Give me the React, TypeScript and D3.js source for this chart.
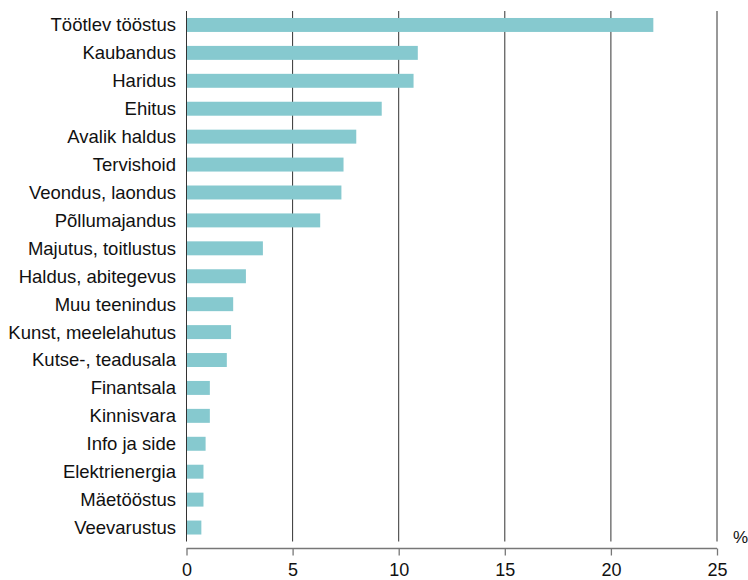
import React, { useRef, useEffect } from "react";
import * as d3 from "d3";

const categories = [
  "Töötlev tööstus",
  "Kaubandus",
  "Haridus",
  "Ehitus",
  "Avalik haldus",
  "Tervishoid",
  "Veondus, laondus",
  "Põllumajandus",
  "Majutus, toitlustus",
  "Haldus, abitegevus",
  "Muu teenindus",
  "Kunst, meelelahutus",
  "Kutse-, teadusala",
  "Finantsala",
  "Kinnisvara",
  "Info ja side",
  "Elektrienergia",
  "Mäetööstus",
  "Veevarustus",
];

const values = [22.0, 10.9, 10.7, 9.2, 8.0, 7.4, 7.3, 6.3, 3.6, 2.8, 2.2, 2.1, 1.9, 1.1, 1.1, 0.9, 0.8, 0.8, 0.7];

const xTicks = [0, 5, 10, 15, 20, 25];

export default function App() {
  const svgRef = useRef<SVGSVGElement>(null);
  const width = 748;
  const height = 580;

  useEffect(() => {
    if (!svgRef.current) return;
    const svg = d3.select(svgRef.current);
    svg.selectAll("*").remove();

    const left = 186.5;
    const right = 717;
    const top = 11;
    const bottom = 541.5;
    const axisY = 548.5;
    const font = "Liberation Sans, Arial, sans-serif";

    const x = d3.scaleLinear().domain([0, 25]).range([left, right]);
    const y = d3
      .scaleBand()
      .domain(categories)
      .range([top, bottom])
      .paddingInner(0.5)
      .paddingOuter(0.25);

    // grid lines
    svg
      .append("g")
      .selectAll("line")
      .data(xTicks)
      .join("line")
      .attr("x1", (d) => x(d))
      .attr("x2", (d) => x(d))
      .attr("y1", top)
      .attr("y2", bottom)
      .attr("stroke", "#333")
      .attr("stroke-width", 1);

    // bars
    svg
      .append("g")
      .selectAll("rect")
      .data(values)
      .join("rect")
      .attr("x", x(0) + 0.5)
      .attr("y", (_, i) => y(categories[i]) ?? 0)
      .attr("width", (d) => x(d) - x(0) - 0.5)
      .attr("height", y.bandwidth())
      .attr("fill", "#86C9CF");

    // category labels
    svg
      .append("g")
      .selectAll("text")
      .data(categories)
      .join("text")
      .attr("x", 176)
      .attr("y", (d) => (y(d) ?? 0) + y.bandwidth() / 2)
      .attr("dy", "0.35em")
      .attr("text-anchor", "end")
      .style("font-family", font)
      .style("font-size", "18.5px")
      .style("fill", "#111")
      .text((d) => d);

    // x axis
    const xAxis = svg
      .append("g")
      .attr("transform", `translate(0,${axisY})`)
      .call(d3.axisBottom(x).tickValues(xTicks).tickSize(7).tickPadding(8));
    xAxis.selectAll("path, line").style("stroke", "#777").style("stroke-width", 1.3);
    xAxis
      .selectAll("text")
      .style("font-family", font)
      .style("font-size", "18px")
      .style("fill", "#111");
    xAxis.select(".domain").attr("d", `M${left},0H${right}`);

    svg
      .append("text")
      .attr("x", 733)
      .attr("y", 543)
      .style("font-family", font)
      .style("font-size", "17px")
      .style("fill", "#111")
      .text("%");
  }, []);

  return (
    <svg
      ref={svgRef}
      width={width}
      height={height}
      style={{ position: "absolute", left: 0, top: 0, background: "#fff" }}
    />
  );
}
